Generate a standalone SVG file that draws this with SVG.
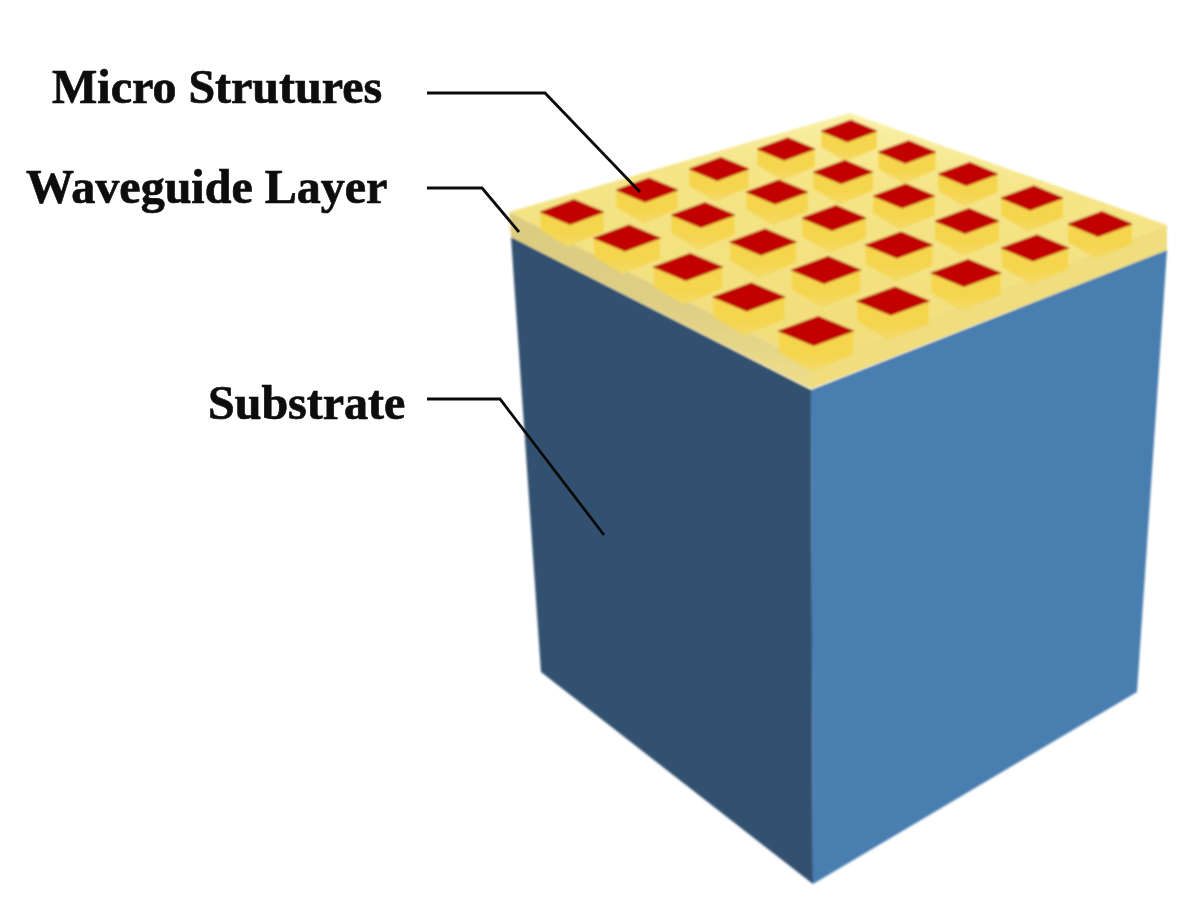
<svg xmlns="http://www.w3.org/2000/svg" xmlns:xlink="http://www.w3.org/1999/xlink" width="1202" height="907" viewBox="0 0 1202 907">
<style>
.lbl{font-family:"Liberation Serif","Times New Roman",serif;font-weight:bold;font-size:48px;fill:#0a0a0a;stroke:#0a0a0a;stroke-width:0.7;filter:url(#soft2)}
.lead{fill:none;stroke:#0a0a0a;stroke-width:2.8;stroke-linejoin:miter}
</style>
<defs>
<filter id="soft" x="-5%" y="-5%" width="110%" height="110%"><feGaussianBlur stdDeviation="0.9"/></filter>
<filter id="soft2" x="-5%" y="-10%" width="110%" height="120%"><feGaussianBlur stdDeviation="0.5"/></filter>
<linearGradient id="sideL" x1="0.5" y1="0" x2="0.42" y2="1"><stop offset="0" stop-color="#dccb7f"/><stop offset="0.55" stop-color="#dfcf84"/><stop offset="1" stop-color="#f0e08c"/></linearGradient>
<linearGradient id="plate" gradientUnits="userSpaceOnUse" x1="850" y1="113" x2="830" y2="363"><stop offset="0" stop-color="#faf0a8"/><stop offset="0.25" stop-color="#f5e588"/><stop offset="1" stop-color="#f2de78"/></linearGradient>
<linearGradient id="pillar" x1="0" y1="0" x2="0" y2="1"><stop offset="0" stop-color="#f6d54a"/><stop offset="0.7" stop-color="#f5d54e"/><stop offset="1" stop-color="#f3da68"/></linearGradient>
<g id="cell">
<polygon points="-32,0 -32,18 -4,35 32,20 32,0 3,-12" fill="url(#pillar)"/>
<polygon points="-32,0 2,-12.5 32,0 -2,12.5" fill="#c20000" stroke="#a81000" stroke-width="1"/>
</g>
</defs>
<rect width="1202" height="907" fill="#ffffff"/>
<g id="block" filter="url(#soft)">
<g id="substrate">
<polygon points="511,237 811,390 813,884 541,672" fill="#335170"/>
<polygon points="811,390 1167,250 1137,692 813,884" fill="#4a7eb0"/>
</g>
<g id="waveguide-layer">
<polygon points="509,212 811,363 811,389 511,237" fill="url(#sideL)"/>
<polygon points="811,363 1167,225 1167,250 811,389" fill="#efdd7e"/>
<polygon points="509,212 850,113 1167,225 811,363" fill="url(#plate)"/>
</g>
<g id="micro-structures">
<use xlink:href="#cell" href="#cell" transform="translate(849,131) scale(.87)"/>
<use xlink:href="#cell" href="#cell" transform="translate(786,149) scale(.9)"/>
<use xlink:href="#cell" href="#cell" transform="translate(907,152) scale(.9)"/>
<use xlink:href="#cell" href="#cell" transform="translate(719,169) scale(.93)"/>
<use xlink:href="#cell" href="#cell" transform="translate(843,172) scale(.93)"/>
<use xlink:href="#cell" href="#cell" transform="translate(968,174) scale(.93)"/>
<use xlink:href="#cell" href="#cell" transform="translate(647,190) scale(.96)"/>
<use xlink:href="#cell" href="#cell" transform="translate(777,192) scale(.96)"/>
<use xlink:href="#cell" href="#cell" transform="translate(904,196) scale(.96)"/>
<use xlink:href="#cell" href="#cell" transform="translate(1032,198) scale(.97)"/>
<use xlink:href="#cell" href="#cell" transform="translate(572,212) scale(.99)"/>
<use xlink:href="#cell" href="#cell" transform="translate(703,215) scale(.99)"/>
<use xlink:href="#cell" href="#cell" transform="translate(834,218) scale(1)"/>
<use xlink:href="#cell" href="#cell" transform="translate(967,221) scale(1)"/>
<use xlink:href="#cell" href="#cell" transform="translate(1100,224) scale(1)"/>
<use xlink:href="#cell" href="#cell" transform="translate(627,238) scale(1.03)"/>
<use xlink:href="#cell" href="#cell" transform="translate(763,242) scale(1.03)"/>
<use xlink:href="#cell" href="#cell" transform="translate(899,245) scale(1.04)"/>
<use xlink:href="#cell" href="#cell" transform="translate(1035,248) scale(1.04)"/>
<use xlink:href="#cell" href="#cell" transform="translate(688,267) scale(1.07)"/>
<use xlink:href="#cell" href="#cell" transform="translate(826,270) scale(1.07)"/>
<use xlink:href="#cell" href="#cell" transform="translate(966,273) scale(1.08)"/>
<use xlink:href="#cell" href="#cell" transform="translate(749,297) scale(1.11)"/>
<use xlink:href="#cell" href="#cell" transform="translate(893,301) scale(1.12)"/>
<use xlink:href="#cell" href="#cell" transform="translate(816,331) scale(1.16)"/>
</g>
</g>
<g id="connectors">
<path class="lead" d="M427,93 H545 L640,192"/>
<path class="lead" d="M427,188 H482 L519,232"/>
<path class="lead" d="M427,399 H500 L604,535"/>
</g>
<g id="label-micro"><text class="lbl" x="52" y="103">Micro Strutures</text></g>
<g id="label-waveguide"><text class="lbl" x="26" y="203">Waveguide Layer</text></g>
<g id="label-substrate"><text class="lbl" x="208" y="419">Substrate</text></g>
</svg>
